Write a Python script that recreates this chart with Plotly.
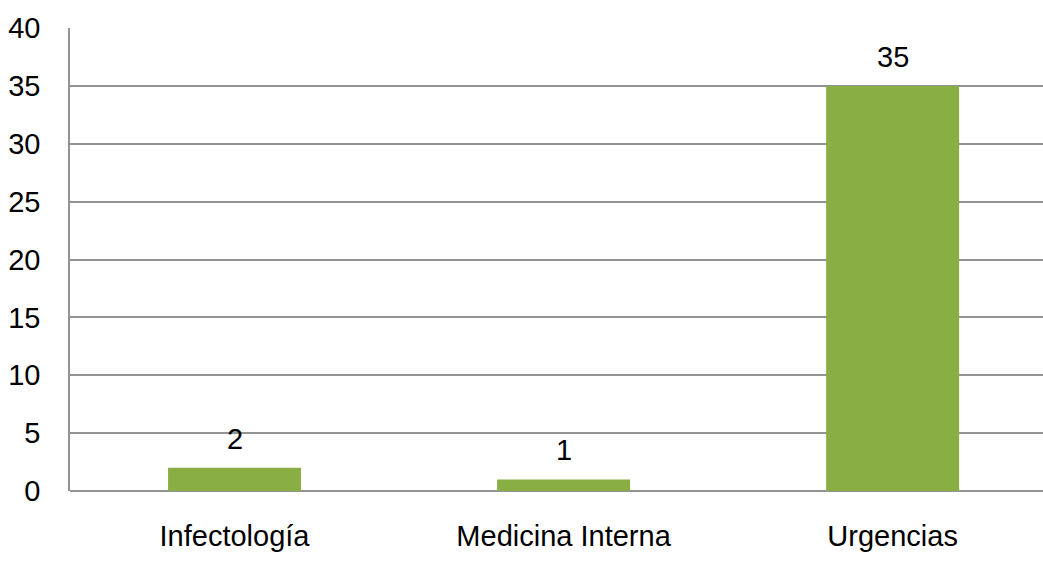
import plotly.graph_objects as go

categories = ["Infectología", "Medicina Interna", "Urgencias"]
values = [2, 1, 35]
y_ticks = [0, 5, 10, 15, 20, 25, 30, 35, 40]

FONT = "Liberation Sans, Arial, sans-serif"

fig = go.Figure()
fig.add_trace(go.Bar(
    x=categories,
    y=values,
    width=0.404,
    marker=dict(color="#89AE43", line=dict(width=0)),
    hoverinfo="x+y",
))

for c, v in zip(categories, values):
    fig.add_annotation(
        x=c, y=v, text=str(v), showarrow=False,
        yanchor="bottom", yshift=11,
        font=dict(family=FONT, size=29, color="#000000"),
    )

fig.update_layout(
    width=1043,
    height=570,
    margin=dict(l=70, r=0, t=28, b=79),
    paper_bgcolor="white",
    plot_bgcolor="white",
    showlegend=False,
    font=dict(family=FONT, size=29, color="#000000"),
    xaxis=dict(
        type="category",
        range=[-0.5, 2.457],
        showgrid=False,
        showline=False,
        zeroline=False,
        ticks="",
        ticklabelstandoff=25,
        tickfont=dict(size=29),
    ),
    yaxis=dict(
        range=[0, 40],
        tickvals=y_ticks,
        showgrid=True,
        gridcolor="#939393",
        gridwidth=1.5,
        showline=True,
        linecolor="#939393",
        linewidth=1.5,
        zeroline=True,
        zerolinecolor="#939393",
        zerolinewidth=1.5,
        ticks="",
        ticklabelstandoff=22,
        tickfont=dict(size=29),
    ),
)

fig.write_html("out.html")
